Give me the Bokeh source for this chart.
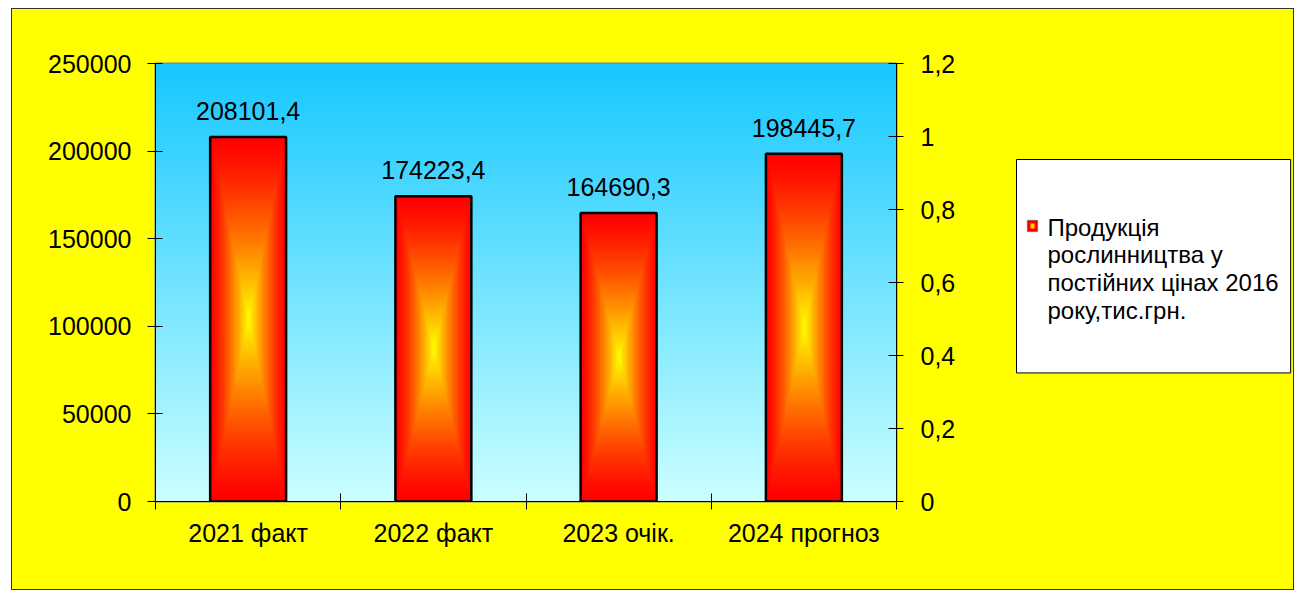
import numpy as np
from bokeh.plotting import figure
from bokeh.layouts import row
from bokeh.models import (Range1d, LinearAxis, FixedTicker, CustomJSTickFormatter,
                          Label, BoxAnnotation)
from bokeh.embed import file_html
from bokeh.resources import INLINE
from bokeh.core.properties import value

# ---------------- data ----------------
categories = ["2021 факт", "2022 факт", "2023 очік.", "2024 прогноз"]
values = [208101.4, 174223.4, 164690.3, 198445.7]
left_ticks = [0, 50000, 100000, 150000, 200000, 250000]
right_ticks = [0, 0.2, 0.4, 0.6, 0.8, 1.0, 1.2]
legend_label = "Продукція\nрослинництва  у\nпостійних цінах 2016\nроку,тис.грн."

# ---------------- styles ----------------
FONT = "Liberation Sans"
FS = "25px"
YELLOW = "#ffff00"
Y_MAX = left_ticks[-1]
N = len(categories)
BAR_W = 0.41
TOTAL_W, TOTAL_H = 1281, 580
MAIN_W = 143 + 741 + 100

xs = [i + 0.5 for i in range(N)]
value_labels = [f"{v:.1f}".replace(".", ",") for v in values]

p = figure(frame_width=741, frame_height=438,
           min_border_left=143, min_border_right=100,
           min_border_top=54, min_border_bottom=88,
           output_backend="svg", toolbar_location=None,
           x_range=Range1d(0, N), y_range=Range1d(0, Y_MAX))
p.border_fill_color = YELLOW
p.background_fill_color = "#ccffff"
p.outline_line_color = "#808080"
p.outline_line_width = 2
p.xgrid.visible = False
p.ygrid.visible = False


def rgba_image(r, g, b):
    h, w = r.shape
    img = np.empty((h, w), dtype=np.uint32)
    view = img.view(dtype=np.uint8).reshape((h, w, 4))
    view[:, :, 0] = np.clip(r, 0, 255).astype(np.uint8)
    view[:, :, 1] = np.clip(g, 0, 255).astype(np.uint8)
    view[:, :, 2] = np.clip(b, 0, 255).astype(np.uint8)
    view[:, :, 3] = 255
    return img


# plot-area vertical gradient (bottom light cyan -> top sky blue)
nb = 300
t = np.linspace(0, 1, nb)[:, None]
top_c = np.array([22, 200, 255], dtype=float)
bot_c = np.array([204, 255, 255], dtype=float)
bg = [bot_c[k] + (top_c[k] - bot_c[k]) * t for k in range(3)]
p.image_rgba(image=[rgba_image(*bg)], x=0, y=0, dw=N, dh=Y_MAX)

# bar "from centre" gradient: yellow centre -> red edges
rows, cols = 360, 90
u = np.linspace(-1, 1, cols)[None, :]
v = np.linspace(-1, 1, rows)[:, None]
tt = np.maximum(np.abs(u), np.abs(v))
g = 255 * (1 - tt) ** 1.3
bar_img = rgba_image(np.full_like(g, 255), g, np.zeros_like(g))
p.image_rgba(image=[bar_img] * N, x=[x - BAR_W / 2 for x in xs], y=[0] * N,
             dw=[BAR_W] * N, dh=values)
p.vbar(x=xs, top=values, width=BAR_W, fill_alpha=0, line_color="black",
       line_width=2.5)

# data labels
p.text(x=xs, y=values, text=value_labels, text_align="center",
       text_baseline="alphabetic", y_offset=-26,
       text_font=value(FONT), text_font_size=FS, text_color="black")


# ---------------- axes ----------------
def style_axis(ax):
    ax.major_label_text_font = FONT
    ax.major_label_text_font_size = FS
    ax.major_label_text_color = "black"
    ax.axis_line_color = "black"
    ax.axis_line_width = 1
    ax.major_tick_line_color = "black"
    ax.minor_tick_line_color = None


ly = p.yaxis[0]
ly.ticker = FixedTicker(ticks=left_ticks)
ly.formatter = CustomJSTickFormatter(code="return tick.toFixed(0)")
style_axis(ly)
ly.major_tick_in = 7
ly.major_tick_out = 8
ly.major_label_standoff = 16

p.extra_y_ranges = {"r": Range1d(right_ticks[0], right_ticks[-1])}
ry = LinearAxis(y_range_name="r", ticker=FixedTicker(ticks=right_ticks),
                formatter=CustomJSTickFormatter(
                    code="return tick.toFixed(1).replace('.', ',').replace(',0', '')"))
style_axis(ry)
ry.major_tick_in = 8
ry.major_tick_out = 7
ry.major_label_standoff = 17
p.add_layout(ry, "right")

bx = p.xaxis[0]
bx.ticker = FixedTicker(ticks=xs, minor_ticks=list(range(N + 1)))
bx.formatter = CustomJSTickFormatter(args=dict(labels=categories),
                                     code="return labels[Math.floor(tick)]")
style_axis(bx)
bx.major_tick_in = 0
bx.major_tick_out = 0
bx.minor_tick_line_color = "black"
bx.minor_tick_in = 8
bx.minor_tick_out = 8
bx.major_label_standoff = 9

# ---------------- legend panel (second figure, screen units) ----------------
q = figure(width=TOTAL_W - MAIN_W, height=TOTAL_H, min_border=0,
           output_backend="svg", toolbar_location=None,
           x_axis_location=None, y_axis_location=None,
           x_range=Range1d(0, 1), y_range=Range1d(0, 1))
q.grid.visible = False
q.outline_line_color = None
q.background_fill_color = YELLOW
q.border_fill_color = YELLOW

# note: q's frame is aligned with p's frame (bottom edge at y=492 of the chart)
leg = Label(x=20, y=342, x_units="screen", y_units="screen", text=legend_label,
            text_font=FONT, text_font_size="24px", text_align="left",
            text_baseline="top", text_line_height=1.03, text_color="black",
            background_fill_color="white", border_line_color="black",
            border_line_width=1,
            padding=dict(left=31, right=12, top=54, bottom=49))
q.add_layout(leg)
q.add_layout(BoxAnnotation(left=31, right=41, bottom=270, top=281,
                           left_units="screen", right_units="screen",
                           bottom_units="screen", top_units="screen",
                           fill_color="red", fill_alpha=1, line_color="black",
                           line_width=1.5))
q.add_layout(BoxAnnotation(left=34, right=38, bottom=273, top=278,
                           left_units="screen", right_units="screen",
                           bottom_units="screen", top_units="screen",
                           fill_color="#ffcc00", fill_alpha=1, line_color=None))

layout = row(p, q, spacing=0,
             styles={"margin-left": "12px", "margin-top": "9px",
                     "background-color": YELLOW,
                     "outline": "1px solid #333333"})

open("out.html", "w").write(file_html(layout, INLINE))
